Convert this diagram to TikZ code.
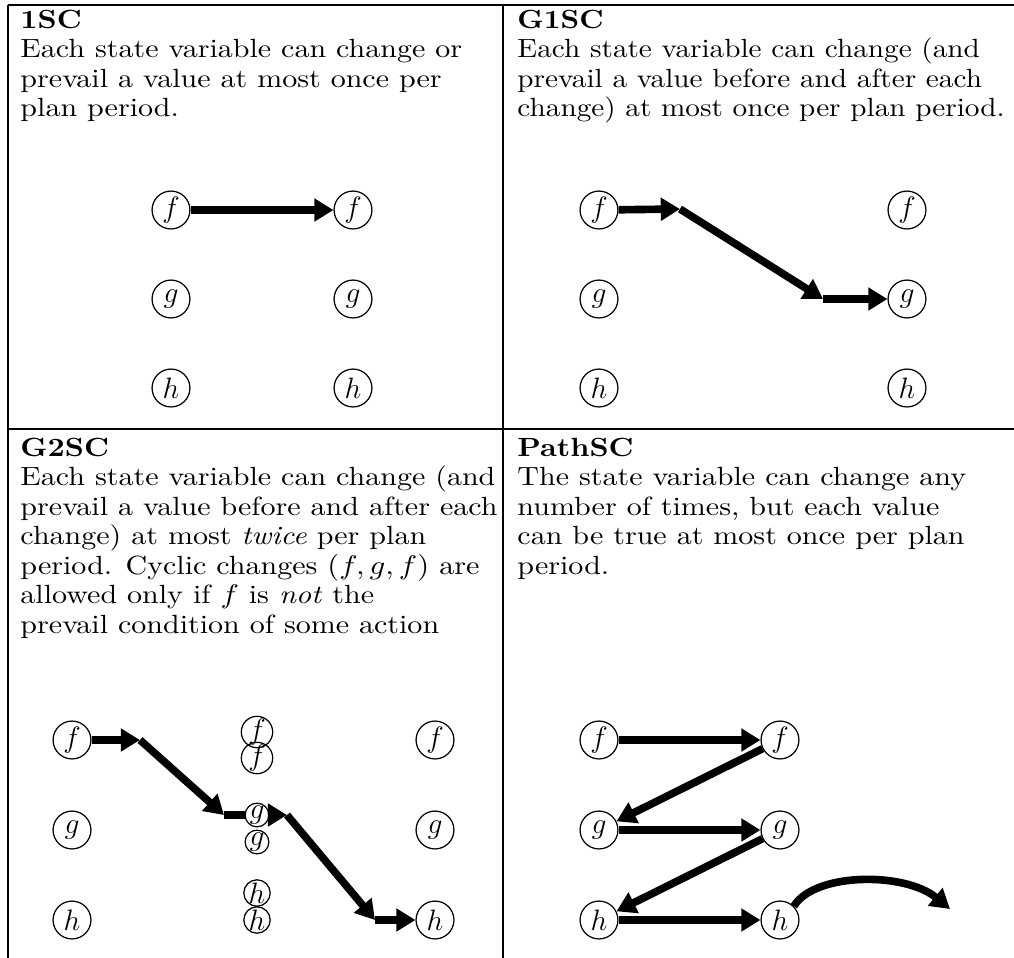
\documentclass[tikz,border=0pt]{standalone}
\usetikzlibrary{arrows.meta}
\newcommand{\celltext}[2][1.14]{\scalebox{#1}[1]{\fontsize{10.7}{12}\selectfont\begin{tabular}[t]{@{}l@{}}#2\end{tabular}}}
\begin{document}
\begin{tikzpicture}[x=0.4065pt,y=-0.4065pt,
  st/.style={draw,circle,line width=0.5pt,minimum size=15.4pt,inner sep=0pt,font=\fontsize{11.5}{13}\selectfont},
  sst/.style={draw,circle,line width=0.5pt,minimum size=7.3pt,inner sep=0pt,font=\fontsize{11.5}{13}\selectfont},
  arr/.style={line width=3.1pt,-{Triangle[length=7.8pt,width=9pt]}},
  thk/.style={line width=3.1pt},
  rule/.style={line width=1.1pt},
  cell/.style={anchor=base west,inner sep=0pt}]
\useasboundingbox (0,0) rectangle (1014,958);
% table rules
\coordinate (tl) at (8,5); \coordinate (tr) at (1014,5);
\coordinate (ml) at (8,429); \coordinate (mr) at (1014,429);
\coordinate (bl) at (8,958); \coordinate (tm) at (503,5); \coordinate (bm) at (503,958);
\draw[rule] (tl) -- (tr);
\draw[rule] (ml) -- (mr);
\draw[rule] (tl) -- (bl);
\draw[rule] (tm) -- (bm);
% texts
\node[cell] (t1) at (20,28) {\celltext{\textbf{1SC}\\Each state variable can change or\\prevail a value at most once per\\plan period.}};
\node[cell] (t2) at (517,28) {\celltext[1.11]{\textbf{G1SC}\\Each state variable can change (and\\prevail a value before and after each\\change) at most once per plan period.}};
\node[cell] (t3) at (20,456) {\celltext{\textbf{G2SC}\\Each state variable can change (and\\prevail a value before and after each\\change) at most \emph{twice} per plan\\period. Cyclic changes $(f,g,f)$ are\\allowed only if $f$ is \emph{not} the\\prevail condition of some action}};
\node[cell] (t4) at (517,456) {\celltext{\textbf{PathSC}\\The state variable can change any\\number of times, but each value\\can be true at most once per plan\\period.}};
% 1SC
\node[st] (af1) at (171,210) {$f$};
\node[st] (af2) at (353,210) {$f$};
\node[st] (ag1) at (171,299) {$g$};
\node[st] (ag2) at (353,299) {$g$};
\node[st] (ah1) at (171,388) {$h$};
\node[st] (ah2) at (353,388) {$h$};
\draw[arr] (af1) -- (af2);
% G1SC
\node[st] (bf1) at (599,210) {$f$};
\node[st] (bf2) at (907,210) {$f$};
\node[st] (bg1) at (599,299) {$g$};
\node[st] (bg2) at (907,299) {$g$};
\node[st] (bh1) at (599,388) {$h$};
\node[st] (bh2) at (907,388) {$h$};
\coordinate (bA) at (680,209);
\coordinate (bB) at (823,299);
\draw[arr] (bf1) -- (bA);
\draw[arr] (bA) -- (bB);
\draw[arr] (bB) -- (bg2);
% G2SC
\node[st] (cf1) at (72,740) {$f$};
\node[st] (cg1) at (72,830) {$g$};
\node[st] (ch1) at (72,920) {$h$};
\node[st] (cf3) at (435,740) {$f$};
\node[st] (cg3) at (435,830) {$g$};
\node[st] (ch3) at (435,920) {$h$};
\node[sst] (cf2a) at (257,732) {$f$};
\node[sst] (cf2b) at (257,758) {$f$};
\node[sst] (cg2a) at (257,815) {$g$};
\node[sst] (cg2b) at (257,842) {$g$};
\node[sst] (ch2a) at (257,893) {$h$};
\node[sst] (ch2b) at (257,920) {$h$};
\coordinate (cP1) at (140,740);
\coordinate (cP2) at (224,815);
\coordinate (cP3) at (287,815);
\coordinate (cP4) at (375,920);
\draw[arr] (cf1) -- (cP1);
\draw[arr] (cP1) -- (cP2);
\draw[thk] (cP2) -- (cg2a);
\draw[arr] (cg2a) -- (cP3);
\draw[arr] (cP3) -- (cP4);
\draw[arr] (cP4) -- (ch3);
% PathSC
\node[st] (df1) at (599,740) {$f$};
\node[st] (df2) at (780,740) {$f$};
\node[st] (dg1) at (599,830) {$g$};
\node[st] (dg2) at (780,830) {$g$};
\node[st] (dh1) at (599,920) {$h$};
\node[st] (dh2) at (780,920) {$h$};
\coordinate (dE) at (950,909);
\draw[arr] (df1) -- (df2);
\draw[arr] (df2) -- (dg1);
\draw[arr] (dg1) -- (dg2);
\draw[arr] (dg2) -- (dh1);
\draw[arr] (dh1) -- (dh2);
\draw[arr] (dh2.north east) .. controls (815,872) and (905,872) .. (dE);
\end{tikzpicture}
\end{document}
